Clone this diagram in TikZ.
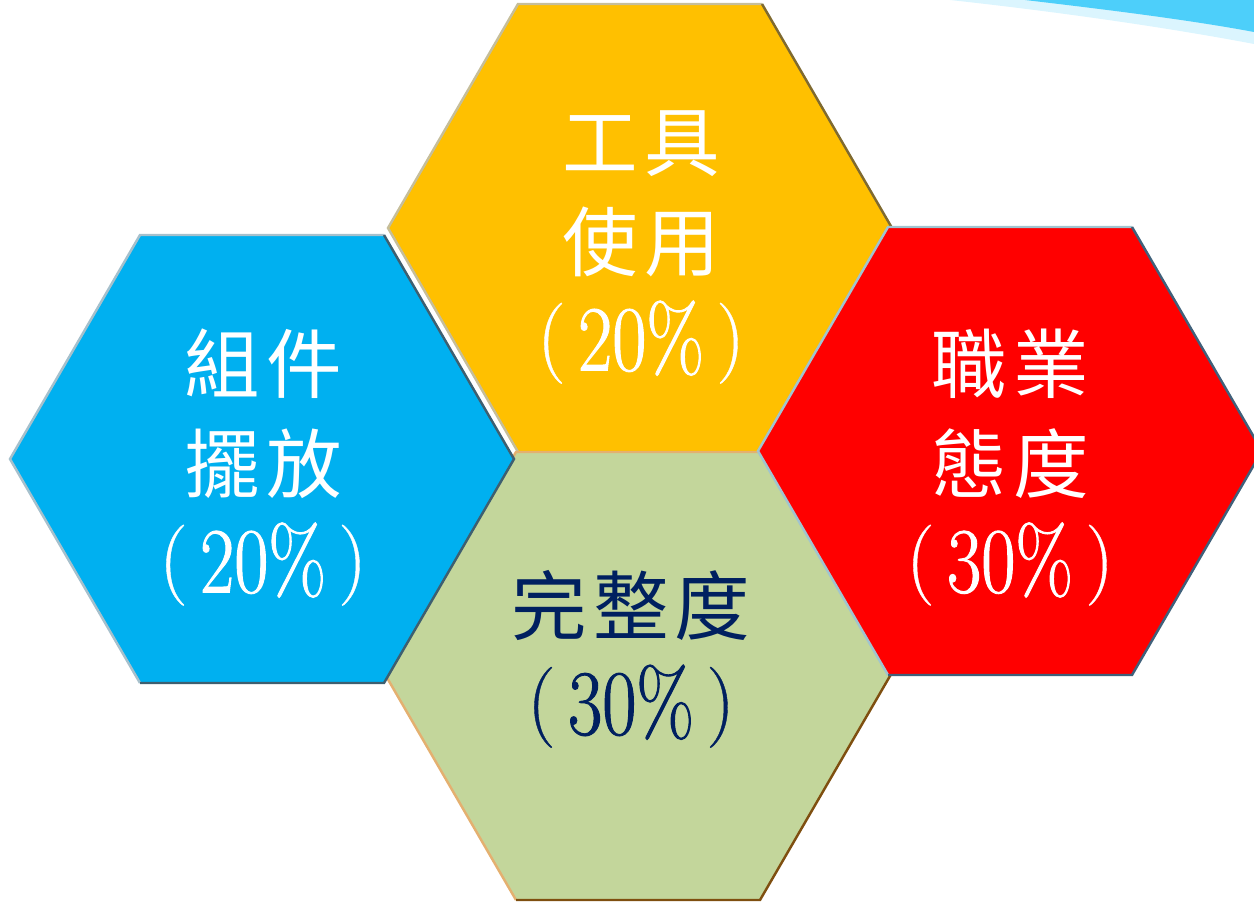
\documentclass[tikz,border=0pt]{standalone}
\usepackage{fontspec}
\newfontfamily\cjk[LetterSpace=8]{Noto Sans CJK TC}
\newfontfamily\numfont[FakeStretch=0.8,FakeBold=1]{Latin Modern Roman}
\newfontfamily\parfont[FakeBold=0.5]{Latin Modern Roman}
\definecolor{hexblue}{HTML}{00B0F0}
\definecolor{hexyellow}{HTML}{FFC000}
\definecolor{hexred}{HTML}{FF0000}
\definecolor{hexgreen}{HTML}{C3D69B}
\definecolor{navy}{HTML}{002060}
\definecolor{swoosh}{HTML}{4DCFFA}
\newcommand{\pct}[1]{{\parfont\fontsize{46}{57}\selectfont\raisebox{4pt}{(}\hspace{7pt}%
	{\numfont\fontsize{53}{57}\selectfont #1\%}\hspace{7pt}\raisebox{4pt}{)}}}
\tikzset{
	hexlabel/.style={align=center,inner sep=0pt,font=\cjk\fontsize{43}{57}\selectfont},
	rim/.style={line width=1.4pt,line join=miter}
}
\begin{document}
\begin{tikzpicture}[x=0.02cm,y=-0.02cm]
				\useasboundingbox (0,0) rectangle (1254,902);
				\fill[swoosh!20] (950,0) .. controls (1060,12) and (1170,28) .. (1254,44) -- (1254,0) -- cycle;
				\fill[swoosh] (1025,0) .. controls (1110,10) and (1190,20) .. (1254,32) -- (1254,0) -- cycle;
				\coordinate (Y) at (640,228);
				\coordinate (G) at (638,676);
				\coordinate (B) at (262,459);
				\coordinate (R) at (1010,451);
				\fill[hexyellow,shift={(Y)}] (-252,0) -- (-122,-224) -- (122,-224) -- (252,0) -- (122,224) -- (-122,224) -- cycle;
				\draw[rim,color={rgb,255:red,198;green,190;blue,154},shift={(Y)}] (-122,224) -- (-252,0) -- (-122,-224) -- (122,-224);
				\draw[rim,color={rgb,255:red,127;green,106;blue,48},shift={(Y)}] (122,-224) -- (252,0) -- (122,224);
				\fill[hexgreen,shift={(G)}] (-252,0) -- (-122,-224) -- (122,-224) -- (252,0) -- (122,224) -- (-122,224) -- cycle;
				\draw[rim,color={rgb,255:red,228;green,176;blue,112},shift={(G)}] (-122,224) -- (-252,0) -- (-122,-224) -- (122,-224);
				\draw[rim,color={rgb,255:red,127;green,79;blue,16},shift={(G)}] (122,-224) -- (252,0) -- (122,224) -- (-122,224);
				\fill[hexblue,shift={(B)}] (-252,0) -- (-122,-224) -- (122,-224) -- (252,0) -- (122,224) -- (-122,224) -- cycle;
				\draw[rim,color={rgb,255:red,166;green,192;blue,204},shift={(B)}] (-122,224) -- (-252,0) -- (-122,-224) -- (122,-224);
				\draw[rim,color={rgb,255:red,62;green,95;blue,112},shift={(B)}] (122,-224) -- (252,0) -- (122,224) -- (-122,224);
				\fill[hexred,shift={(R)}] (-252,0) -- (-122,-224) -- (122,-224) -- (252,0) -- (122,224) -- (-122,224) -- cycle;
				\draw[rim,color={rgb,255:red,160;green,196;blue,208},shift={(R)}] (-122,224) -- (-252,0) -- (-122,-224) -- (122,-224);
				\draw[rim,color={rgb,255:red,64;green,96;blue,122},shift={(R)}] (122,-224) -- (252,0) -- (122,224) -- (-122,224);
				\node[hexlabel,white] (tools) at (641,247) {工具\\使用\\\pct{20}};
				\node[hexlabel,white] (parts) at (263,467) {組件\\擺放\\\pct{20}};
				\node[hexlabel,white] (attitude) at (1010,467) {職業\\態度\\\pct{30}};
				\node[hexlabel,navy] (whole) at (631,659) {完整度\\\pct{30}};
			\end{tikzpicture}
\end{document}
